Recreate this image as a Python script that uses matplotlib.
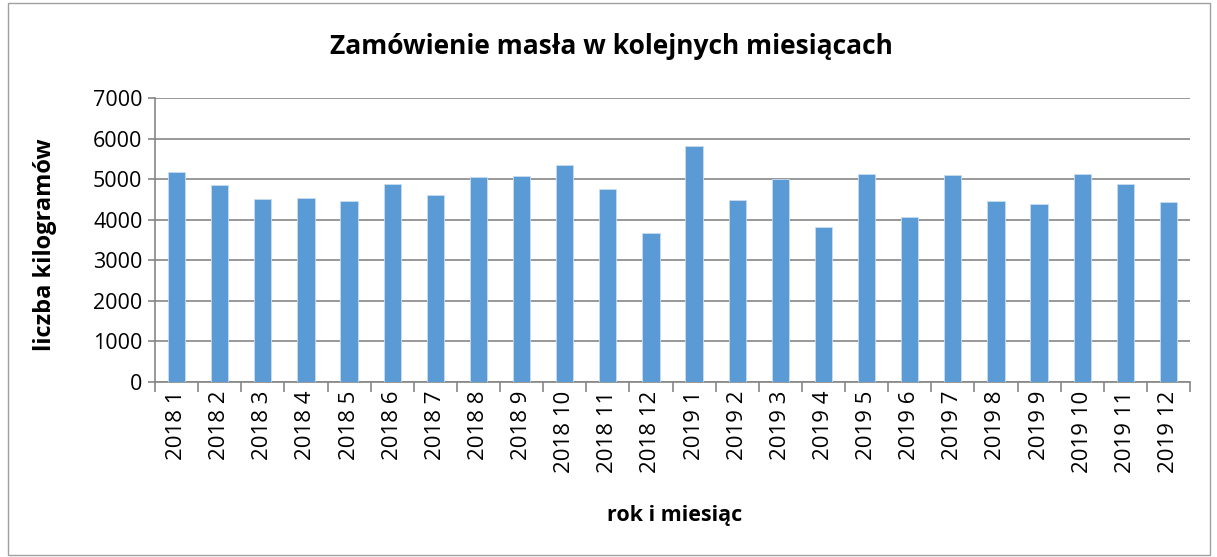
import matplotlib.pyplot as plt
import numpy as np
from matplotlib.patches import Rectangle

months = ['2018 1', '2018 2', '2018 3', '2018 4', '2018 5', '2018 6',
          '2018 7', '2018 8', '2018 9', '2018 10', '2018 11', '2018 12',
          '2019 1', '2019 2', '2019 3', '2019 4', '2019 5', '2019 6',
          '2019 7', '2019 8', '2019 9', '2019 10', '2019 11', '2019 12']
kilograms = [5170, 4850, 4500, 4530, 4470, 4870, 4610, 5050, 5075, 5345, 4760, 3665,
             5815, 4480, 5000, 3830, 5125, 4055, 5090, 4455, 4380, 5125, 4875, 4440]

title = 'Zamówienie masła w kolejnych miesiącach'
x_label = 'rok i miesiąc'
y_label = 'liczba kilogramów'
y_ticks = [0, 1000, 2000, 3000, 4000, 5000, 6000, 7000]

plt.rcParams['font.family'] = ['Open Sans', 'DejaVu Sans']
grid_color = '#868686'

fig = plt.figure(figsize=(12.17, 5.57), dpi=100)
ax = fig.add_axes([155 / 1217, 1 - 382 / 557, (1190 - 155) / 1217, (382 - 98) / 557])

x = np.arange(len(months))
ax.bar(x, kilograms, width=0.4, color='#5B9BD5', edgecolor='#c9dcf0', linewidth=0.6, zorder=3)

ax.set_xlim(-0.5, len(months) - 0.5)
ax.set_ylim(0, 7000)
ax.set_yticks(y_ticks)
ax.set_yticklabels([str(v) for v in y_ticks], fontsize=15.5)
ax.yaxis.grid(True, color=grid_color, linewidth=1.2, zorder=0)
ax.set_axisbelow(True)

# category labels at centres, tick marks at boundaries
ax.set_xticks(x)
ax.set_xticklabels(months, rotation=90, fontsize=16)
ax.tick_params(axis='x', which='major', length=0, pad=6)
ax.set_xticks(np.arange(len(months) + 1) - 0.5, minor=True)
ax.tick_params(axis='x', which='minor', length=7, color=grid_color, width=1.2)
ax.tick_params(axis='y', length=5, color=grid_color, width=1.2, pad=4)

for side in ['top', 'right']:
    ax.spines[side].set_visible(False)
for side in ['left', 'bottom']:
    ax.spines[side].set_color(grid_color)
    ax.spines[side].set_linewidth(1.2)

fig.text(611 / 1217, 1 - 47 / 557, title, fontsize=19, fontweight='bold', ha='center', va='center')
fig.text(675 / 1217, 1 - 515 / 557, x_label, fontsize=15.5, fontweight='bold', ha='center', va='center')
fig.text(45 / 1217, 1 - 245 / 557, y_label, fontsize=17, fontweight='bold', ha='center', va='center',
         rotation=90)

fig.patches.append(Rectangle((8 / 1217, 2 / 557), 1202 / 1217, 552 / 557, transform=fig.transFigure,
                             fill=False, edgecolor='#a0a0a0', linewidth=1))

fig.savefig('out.png', dpi=100)
